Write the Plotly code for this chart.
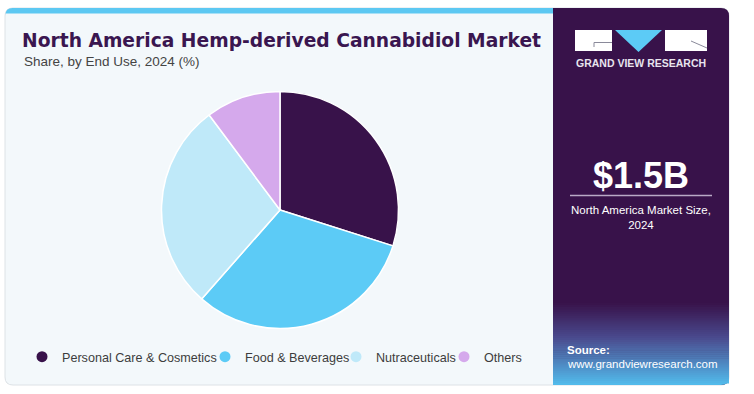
import plotly.graph_objects as go

W, H = 754, 394

categories = ["Personal Care & Cosmetics", "Food & Beverages", "Nutraceuticals", "Others"]
shares = [29.9, 31.6, 28.3, 10.2]
colors = ["#38124a", "#5ccbf6", "#bfe9f9", "#d5a9ec"]

title_text = "North America Hemp-derived Cannabidiol Market"
subtitle_text = "Share, by End Use, 2024 (%)"
market_value = "$1.5B"
market_label = "North America Market Size,<br>2024"
source_label = "Source:"
source_url = "www.grandviewresearch.com"
brand = "GRAND VIEW RESEARCH"

# left pixel where each legend entry's text starts (layout, not data)
legend_text_x = [58, 241, 372, 480]

PURPLE = "#38124a"


def rrect(x0, y0, x1, y1, r_tl=0, r_tr=0, r_br=0, r_bl=0):
    p = f"M {x0 + r_tl},{y0} L {x1 - r_tr},{y0} "
    p += f"Q {x1},{y0} {x1},{y0 + r_tr} " if r_tr else ""
    p += f"L {x1},{y1 - r_br} "
    p += f"Q {x1},{y1} {x1 - r_br},{y1} " if r_br else ""
    p += f"L {x0 + r_bl},{y1} "
    p += f"Q {x0},{y1} {x0},{y1 - r_bl} " if r_bl else ""
    p += f"L {x0},{y0 + r_tl} "
    p += f"Q {x0},{y0} {x0 + r_tl},{y0} " if r_tl else ""
    return p + "Z"


def hex2rgb(h):
    h = h.lstrip("#")
    return tuple(int(h[i:i + 2], 16) for i in (0, 2, 4))


def lerp(c1, c2, t):
    a, b = hex2rgb(c1), hex2rgb(c2)
    return "rgb(%d,%d,%d)" % tuple(round(a[i] + (b[i] - a[i]) * t) for i in range(3))


shapes = []
# card
shapes.append(dict(type="path", path=rrect(5, 8, 729, 385, 8, 8, 8, 8), xref="x", yref="y",
                   fillcolor="#f3f8fb", line=dict(color="#dde2e6", width=1), layer="below"))
# top blue bar
shapes.append(dict(type="path", path=rrect(5.5, 8, 553, 13.5, 7, 0, 0, 0), xref="x", yref="y",
                   fillcolor="#5cc8f2", line=dict(width=0), layer="below"))
# purple panel
shapes.append(dict(type="path", path=rrect(553, 8, 729, 385, 0, 8, 8, 0), xref="x", yref="y",
                   fillcolor=PURPLE, line=dict(width=0), layer="below"))
# gradient bottom of panel
g0, g1, g2 = 303, 338, 385
steps = 40
for i in range(steps):
    ya = g0 + (g2 - g0) * i / steps
    yb = g0 + (g2 - g0) * (i + 1) / steps + 0.5
    ym = (ya + yb) / 2
    if ym < g1:
        col = lerp("#38124a", "#4a4a8e", (ym - g0) / (g1 - g0))
    else:
        col = lerp("#4a4a8e", "#52bcec", (ym - g1) / (g2 - g1))
    if yb > 378:
        path = rrect(553, ya, 729, min(yb, 385), 0, 0, 8 if yb >= 385 else 0, 0)
    else:
        path = rrect(553, ya, 729, yb)
    shapes.append(dict(type="path", path=path, xref="x", yref="y",
                       fillcolor=col, line=dict(width=0), layer="below"))
# logo blocks
shapes.append(dict(type="rect", x0=575, y0=30, x1=612, y1=51, xref="x", yref="y",
                   fillcolor="white", line=dict(width=0), layer="below"))
shapes.append(dict(type="path", path="M 594,42.5 L 612,42.5", xref="x", yref="y",
                   line=dict(color="#8a8a9a", width=1), layer="below"))
shapes.append(dict(type="path", path="M 594,42.5 L 594,47", xref="x", yref="y",
                   line=dict(color="#8a8a9a", width=1), layer="below"))
shapes.append(dict(type="path", path="M 615,30 L 662,30 L 638.5,52 Z", xref="x", yref="y",
                   fillcolor="#5ccbf6", line=dict(width=0), layer="below"))
shapes.append(dict(type="rect", x0=665, y0=30, x1=707, y1=51, xref="x", yref="y",
                   fillcolor="white", line=dict(width=0), layer="below"))
shapes.append(dict(type="path", path="M 691,41 L 707,48", xref="x", yref="y",
                   line=dict(color="#8a8a9a", width=1), layer="below"))
# divider line under value
shapes.append(dict(type="line", x0=570, y0=195.5, x1=712, y1=195.5, xref="x", yref="y",
                   line=dict(color="#b9a9c6", width=1.5), layer="below"))

annotations = [
    dict(text=f"<b>{title_text}</b>", x=20, y=40, xref="x", yref="y", xanchor="left", yanchor="middle",
         showarrow=False, font=dict(family="DejaVu Sans", size=18.7, color="#3a1650")),
    dict(text=subtitle_text, x=21.5, y=61.5, xref="x", yref="y", xanchor="left", yanchor="middle",
         showarrow=False, font=dict(family="Liberation Sans", size=13.5, color="#444444")),
    dict(text=f"<b>{brand}</b>", x=641, y=63, xref="x", yref="y", xanchor="center", yanchor="middle",
         showarrow=False, font=dict(family="Liberation Sans", size=10.5, color="#e8e4ee")),
    dict(text=f"<b>{market_value}</b>", x=640.5, y=175, xref="x", yref="y", xanchor="center", yanchor="middle",
         showarrow=False, font=dict(family="Liberation Sans", size=36, color="white")),
    dict(text=market_label, x=641, y=217.5, xref="x", yref="y", xanchor="center", yanchor="middle",
         showarrow=False, font=dict(family="Liberation Sans", size=11.5, color="white")),
    dict(text=f"<b>{source_label}</b>", x=565, y=350, xref="x", yref="y", xanchor="left", yanchor="middle",
         showarrow=False, font=dict(family="Liberation Sans", size=11.5, color="white")),
    dict(text=source_url, x=565, y=364, xref="x", yref="y", xanchor="left", yanchor="middle",
         showarrow=False, font=dict(family="Liberation Sans", size=11.5, color="white")),
]

fig = go.Figure()
cx, cy, r = 280, 210, 118.5
fig.add_trace(go.Pie(
    labels=categories, values=shares, sort=False, direction="clockwise", rotation=0,
    marker=dict(colors=colors, line=dict(color="white", width=1.5)),
    textinfo="none", hoverinfo="label+percent", showlegend=False,
    domain=dict(x=[(cx - r) / W, (cx + r) / W], y=[1 - (cy + r) / H, 1 - (cy - r) / H]),
))

legend_layouts = {}
for i, (name, col, tx) in enumerate(zip(categories, colors, legend_text_x)):
    key = "legend" if i == 0 else f"legend{i + 1}"
    fig.add_trace(go.Scatter(x=[None], y=[None], mode="markers", name=name, legend=key,
                             marker=dict(symbol="circle", size=11, color=col), showlegend=True))
    legend_layouts[key] = dict(
        orientation="h", x=(tx - 36) / W, y=1 - 357 / H, xref="paper", yref="paper",
        xanchor="left", yanchor="middle", bgcolor="rgba(0,0,0,0)", borderwidth=0,
        font=dict(family="Liberation Sans", size=12.6, color="#3d3d3d"), itemwidth=30,
    )

fig.update_layout(
    width=W, height=H, margin=dict(l=0, r=0, t=0, b=0),
    paper_bgcolor="white", plot_bgcolor="rgba(0,0,0,0)",
    xaxis=dict(range=[0, W], visible=False, fixedrange=True),
    yaxis=dict(range=[H, 0], visible=False, fixedrange=True),
    shapes=shapes, annotations=annotations,
    showlegend=True,
    **legend_layouts,
)

fig.write_html("out.html", config={"displayModeBar": False},
               post_script="document.body.style.margin='0';document.body.style.overflow='hidden';")
